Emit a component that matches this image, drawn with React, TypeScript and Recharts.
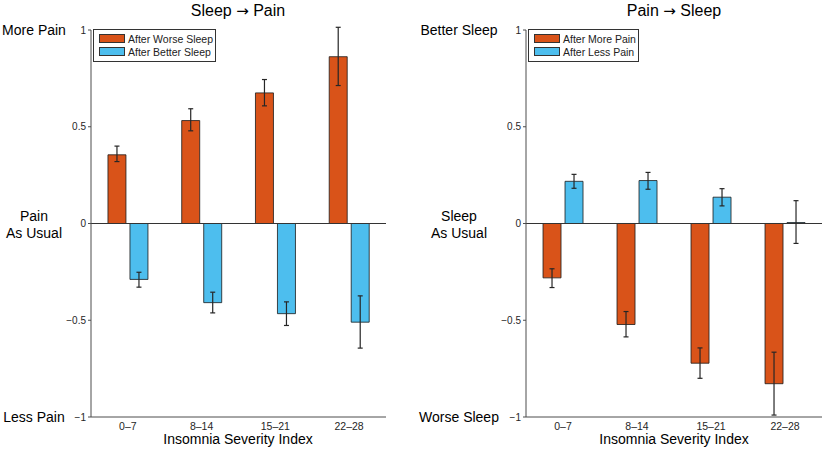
import React from 'react';
import { BarChart, Bar, XAxis, YAxis, ErrorBar, ReferenceLine, Legend } from 'recharts';

const categories = ['0–7', '8–14', '15–21', '22–28'];
const yTicks = [-1, -0.5, 0, 0.5, 1];

// Sleep -> Pain
const afterWorseSleep = [0.355, 0.532, 0.675, 0.862];
const afterWorseSleepLow = [0.32, 0.479, 0.608, 0.713];
const afterWorseSleepHigh = [0.4, 0.593, 0.744, 1.014];
const afterBetterSleep = [-0.289, -0.409, -0.466, -0.51];
const afterBetterSleepLow = [-0.329, -0.462, -0.527, -0.644];
const afterBetterSleepHigh = [-0.252, -0.355, -0.405, -0.374];

// Pain -> Sleep
const afterMorePain = [-0.281, -0.522, -0.722, -0.828];
const afterMorePainLow = [-0.331, -0.586, -0.8, -0.99];
const afterMorePainHigh = [-0.234, -0.455, -0.643, -0.665];
const afterLessPain = [0.218, 0.222, 0.136, 0.005];
const afterLessPainLow = [0.182, 0.177, 0.091, -0.103];
const afterLessPainHigh = [0.254, 0.264, 0.18, 0.118];

const ORANGE = '#D95319';
const BLUE = '#4DBEEE';
const INK = '#262626';
const AXIS = '#4d4d4d';
const FONT = '"Liberation Sans", Arial, Helvetica, sans-serif';

const buildRows = (
  a: number[], aLow: number[], aHigh: number[],
  b: number[], bLow: number[], bHigh: number[]
) =>
  categories.map((cat, i) => ({
    cat,
    a: a[i],
    aErr: [a[i] - aLow[i], aHigh[i] - a[i]],
    b: b[i],
    bErr: [b[i] - bLow[i], bHigh[i] - b[i]],
  }));

const sleepPainRows = buildRows(
  afterWorseSleep, afterWorseSleepLow, afterWorseSleepHigh,
  afterBetterSleep, afterBetterSleepLow, afterBetterSleepHigh
);
const painSleepRows = buildRows(
  afterMorePain, afterMorePainLow, afterMorePainHigh,
  afterLessPain, afterLessPainLow, afterLessPainHigh
);

const fmtTick = (v: number) => (v === 0 ? '0' : String(v).replace('-', '−'));

const LegendBox = (props: any) => {
  // keep series order (a, then b) instead of the alphabetical default
  const items = [...(props.payload || [])].sort((p: any, q: any) =>
    String(p.dataKey).localeCompare(String(q.dataKey))
  );
  return (
    <div
      style={{
        border: '1px solid #333',
        background: '#fff',
        padding: '2px 2px 3px 5px',
        fontFamily: FONT,
        fontSize: 10.5,
        color: '#222',
        display: 'inline-block',
      }}
    >
      {items.map((it: any) => (
        <div key={it.value} style={{ display: 'flex', alignItems: 'center', height: 13, whiteSpace: 'nowrap' }}>
          <span
            style={{
              display: 'inline-block',
              width: 26,
              height: 9,
              background: it.color,
              border: '1px solid #333',
              boxSizing: 'border-box',
              marginRight: 3,
            }}
          />
          <span>{it.value}</span>
        </div>
      ))}
    </div>
  );
};

const Text = ({ x, y, size, children }: { x: number; y: number; size: number; children: React.ReactNode }) => (
  <div
    style={{
      position: 'absolute',
      left: x,
      top: y,
      transform: 'translate(-50%, -50%)',
      fontFamily: FONT,
      fontSize: size,
      lineHeight: 1,
      color: '#000',
      whiteSpace: 'nowrap',
    }}
  >
    {children}
  </div>
);

const Arrow = () => <span style={{ fontFamily: '"DejaVu Sans", sans-serif', fontSize: 15 }}>→</span>;

const Panel = ({
  rows, width, axisWidth, marginRight, nameA, nameB,
}: {
  rows: any[]; width: number; axisWidth: number; marginRight: number; nameA: string; nameB: string;
}) => (
  <BarChart
    width={width}
    height={449}
    data={rows}
    margin={{ top: 30, right: marginRight, bottom: 2, left: 0 }}
    barCategoryGap="23%"
    barGap={4}
  >
    <XAxis
      dataKey="cat"
      height={30}
      tickLine={false}
      tickSize={4}
      tickMargin={2}
      axisLine={{ stroke: AXIS }}
      tick={{ fontSize: 10.5, fill: INK, fontFamily: FONT }}
    />
    <YAxis
      type="number"
      domain={[-1, 1]}
      ticks={yTicks}
      interval={0}
      allowDataOverflow
      width={axisWidth}
      tickSize={3}
      tickMargin={2}
      tickFormatter={fmtTick}
      axisLine={{ stroke: AXIS }}
      tickLine={{ stroke: AXIS }}
      tick={{ fontSize: 10, fill: INK, fontFamily: FONT }}
    />
    <ReferenceLine y={0} stroke="#333" strokeWidth={1} />
    <Legend
      layout="vertical"
      align="center"
      verticalAlign="middle"
      content={LegendBox}
      wrapperStyle={{ left: axisWidth + 2, top: 29, width: 'auto', height: 'auto' }}
    />
    <Bar dataKey="a" name={nameA} fill={ORANGE} stroke="#1a1a1a" strokeWidth={0.8} isAnimationActive={false}>
      <ErrorBar dataKey="aErr" width={2.5} stroke={INK} strokeWidth={1.2} />
    </Bar>
    <Bar dataKey="b" name={nameB} fill={BLUE} stroke="#1a1a1a" strokeWidth={0.8} isAnimationActive={false}>
      <ErrorBar dataKey="bErr" width={2.5} stroke={INK} strokeWidth={1.2} />
    </Bar>
  </BarChart>
);

export default function App() {
  return (
    <div style={{ position: 'absolute', left: 0, top: 0, width: 825, height: 449, background: '#fff', overflow: 'hidden' }}>
      <div style={{ position: 'absolute', left: 0, top: 0 }}>
        <Panel rows={sleepPainRows} width={412} axisWidth={91} marginRight={26} nameA="After Worse Sleep" nameB="After Better Sleep" />
      </div>
      <div style={{ position: 'absolute', left: 412, top: 0 }}>
        <Panel rows={painSleepRows} width={413} axisWidth={114} marginRight={3} nameA="After More Pain" nameB="After Less Pain" />
      </div>

      <Text x={238} y={11} size={16}>Sleep <Arrow /> Pain</Text>
      <Text x={674} y={11} size={16}>Pain <Arrow /> Sleep</Text>

      <Text x={34} y={30} size={14}>More Pain</Text>
      <Text x={34} y={216} size={14}>Pain</Text>
      <Text x={34} y={233} size={14}>As Usual</Text>
      <Text x={34} y={417} size={14}>Less Pain</Text>

      <Text x={459} y={30} size={14}>Better Sleep</Text>
      <Text x={459} y={216} size={14}>Sleep</Text>
      <Text x={459} y={233} size={14}>As Usual</Text>
      <Text x={459} y={417} size={14}>Worse Sleep</Text>

      <Text x={238} y={439} size={14}>Insomnia Severity Index</Text>
      <Text x={674} y={439} size={14}>Insomnia Severity Index</Text>
    </div>
  );
}
